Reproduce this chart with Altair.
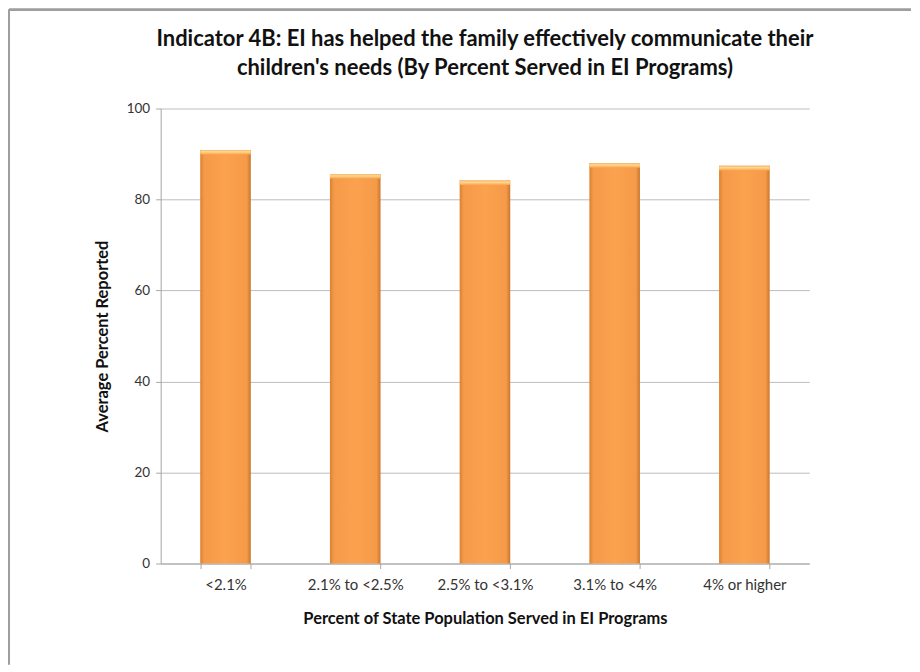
import altair as alt
import pandas as pd

categories = ["<2.1%", "2.1% to <2.5%", "2.5% to <3.1%", "3.1% to <4%", "4% or higher"]
values = [90.9, 85.6, 84.2, 88.0, 87.4]

df = pd.DataFrame({"cat": categories, "value": values})

FONT = "Lato"
W, H = 650, 456

x_enc = alt.X("cat:N", sort=categories, title="Percent of State Population Served in EI Programs",
              scale=alt.Scale(paddingInner=0.61, paddingOuter=0.305),
              axis=alt.Axis(labelAngle=0, labelFont=FONT, labelFontSize=15, labelColor="#333333",
                            labelPadding=9, titleFont=FONT, titleFontSize=16.5, titleFontWeight="bold",
                            titleColor="#111111", titlePadding=18, domainColor="#A6A6A6",
                            tickColor="#A6A6A6", tickSize=5, tickBand="extent", grid=False))

y_scale = alt.Scale(domain=[0, 100])
y_axis = alt.Axis(values=[0, 20, 40, 60, 80, 100], labelFont=FONT, labelFontSize=13.5,
                  labelColor="#333333", labelPadding=6, titleFont=FONT, titleFontSize=16.5,
                  titleFontWeight="bold", titleColor="#111111", titlePadding=16,
                  domainColor="#A6A6A6", tickColor="#A6A6A6", tickSize=5,
                  gridColor="#BDBDBD", gridWidth=1)

bar_grad = alt.Gradient(
    gradient="linear", x1=0, x2=1, y1=0, y2=0,
    stops=[alt.GradientStop(offset=0, color="#D9822F"),
           alt.GradientStop(offset=0.08, color="#F59A48"),
           alt.GradientStop(offset=0.5, color="#FBA24F"),
           alt.GradientStop(offset=0.92, color="#F59A48"),
           alt.GradientStop(offset=1, color="#C9762B")])

bars = alt.Chart(df).mark_bar(color=bar_grad).encode(
    x=x_enc,
    y=alt.Y("value:Q", scale=y_scale, axis=y_axis, title="Average Percent Reported"),
)

cap_grad = alt.Gradient(
    gradient="linear", x1=0, x2=0, y1=0, y2=1,
    stops=[alt.GradientStop(offset=0, color="#F6B36A"),
           alt.GradientStop(offset=0.4, color="#FFD98F"),
           alt.GradientStop(offset=1, color="#F9A650")])

caps = alt.Chart(df).transform_calculate(cap="datum.value - 1.0").mark_bar(color=cap_grad).encode(
    x=alt.X("cat:N", sort=categories),
    y=alt.Y("value:Q", scale=y_scale),
    y2="cap:Q",
)

top_rule = alt.Chart(df).mark_rule(color="#9E9E9E", strokeWidth=2).encode(
    x=alt.value(-152), x2=alt.value(752), y=alt.value(-99))
left_rule = alt.Chart(df).mark_rule(color="#9E9E9E", strokeWidth=2).encode(
    x=alt.value(-152), y=alt.value(-99), y2=alt.value(557))

chart = alt.layer(bars, caps, top_rule, left_rule).properties(
    width=W, height=H, padding=0, background="white",
    title=alt.TitleParams(
        ["Indicator 4B: EI has helped the family effectively communicate their",
         "children's needs (By Percent Served in EI Programs)"],
        font=FONT, fontSize=22, fontWeight="bold", color="#111111",
        anchor="middle", lineHeight=29, offset=28, dy=99),
).configure_view(stroke=None)

chart.save("out.html", embed_options={"renderer": "svg", "actions": False})
